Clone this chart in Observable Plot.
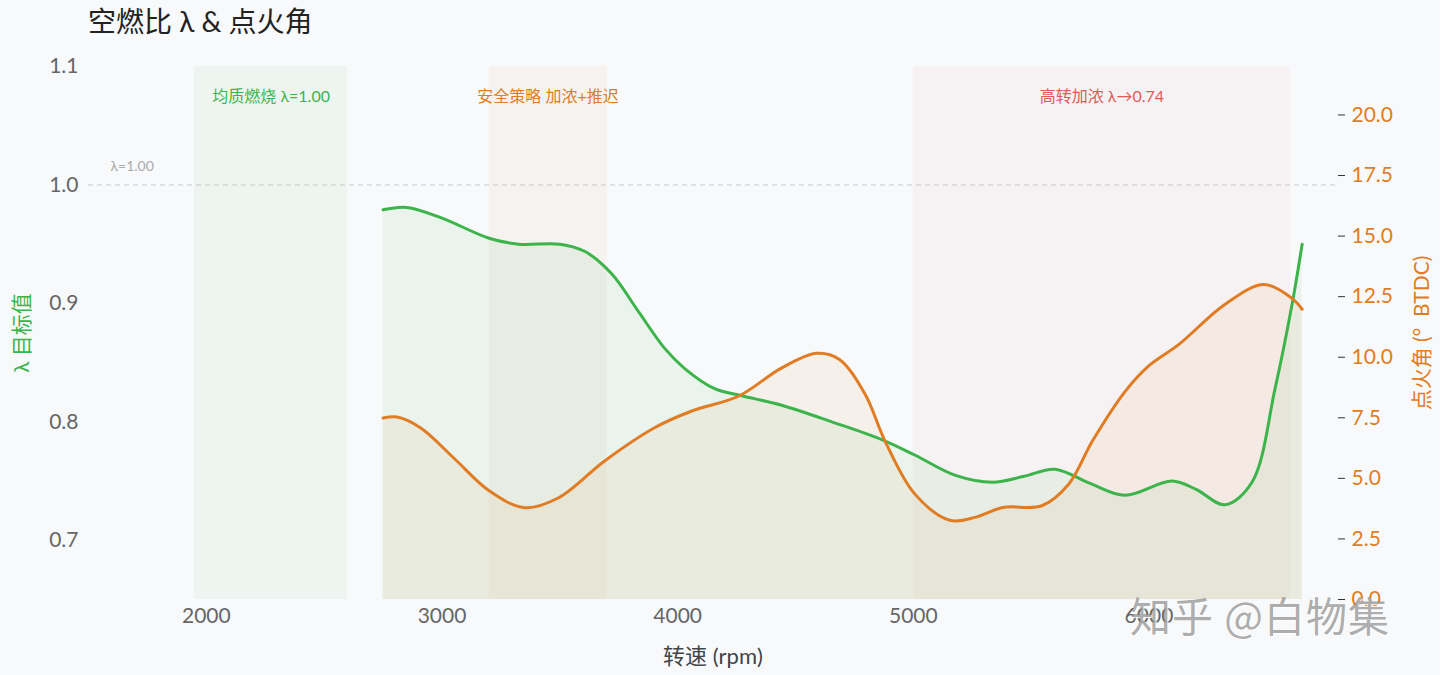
<!DOCTYPE html>
<html><head><meta charset="utf-8">
<script src="https://cdn.jsdelivr.net/npm/d3@7"></script>
<script src="https://cdn.jsdelivr.net/npm/@observablehq/plot@0.6"></script>
<style>
body{margin:0;background:#f8f9fa;font-family:Lato,"Noto Sans CJK SC",sans-serif;}
#wrap{position:relative;width:1440px;height:675px;overflow:hidden;background:#f8f9fa}
#title{position:absolute;left:88px;top:6px;font-size:28px;line-height:1.1;color:#222;font-family:Lato,"Noto Sans CJK SC",sans-serif;}
#wm{position:absolute;left:1130px;top:592px;font-size:41px;line-height:1.1;color:rgba(120,120,120,0.62);text-shadow:1px 1px 1px rgba(255,255,255,0.9);font-family:"Noto Sans CJK SC",sans-serif;letter-spacing:1px}
#chart{position:absolute;left:0;top:0}
</style></head><body>
<div id="wrap"><div id="chart"></div><div id="title">空燃比 λ &amp; 点火角</div><div id="wm">知乎 @白物集</div></div>
<script>
const GREEN = "#3cb44b", ORANGE = "#e07d24", RED = "#e05a5a";
const LAM_MIN = 0.65, LAM_MAX = 1.1, IGN_MAX = 22;

// λ target vs rpm
const lambdaRpm = [2750,2850,3000,3200,3325,3500,3605,3720,3834,3945,4030,4157,4272,4441,4654,4866,5006,5176,5337,5470,5601,5750,5898,6097,6200,6322,6437,6535,6607,6650];
const lambdaVal = [0.979,0.981,0.972,0.955,0.950,0.950,0.944,0.925,0.893,0.862,0.845,0.828,0.822,0.814,0.800,0.785,0.772,0.755,0.749,0.754,0.760,0.748,0.738,0.750,0.743,0.730,0.749,0.828,0.899,0.950];

// ignition angle (° BTDC) vs rpm
const ignRpm = [2750,2810,2910,3050,3200,3350,3495,3690,3900,4060,4260,4440,4590,4685,4795,4880,5006,5155,5265,5380,5545,5660,5760,5900,6000,6127,6322,6488,6607,6650];
const ignVal = [7.49,7.53,7.08,5.84,4.49,3.79,4.20,5.72,7.08,7.78,8.40,9.55,10.16,9.92,8.48,6.54,4.36,3.27,3.40,3.80,3.87,4.77,6.54,8.60,9.65,10.53,12.18,13.00,12.43,11.98];

// strategy bands
const bandStart = [1950, 3200, 5000];
const bandEnd   = [2600, 3700, 6600];
const bandLabel = ["均质燃烧 λ=1.00", "安全策略 加浓+推迟", "高转加浓 λ→0.74"];
const bandColor = [GREEN, ORANGE, RED];

const refLines = [{y: 1.0, label: "λ=1.00"}];

const xTicks = [2000, 3000, 4000, 5000, 6000];
const lamTicks = [0.7, 0.8, 0.9, 1.0, 1.1];
const ignTicks = [0, 2.5, 5, 7.5, 10, 12.5, 15, 17.5, 20];

const ignToY = v => LAM_MIN + v / IGN_MAX * (LAM_MAX - LAM_MIN);
const yToIgn = y => (y - LAM_MIN) / (LAM_MAX - LAM_MIN) * IGN_MAX;

const lamData = lambdaRpm.map((r, i) => ({rpm: r, lambda: lambdaVal[i]}));
const ignData = ignRpm.map((r, i) => ({rpm: r, ign: ignVal[i], y: ignToY(ignVal[i])}));
const bands = bandStart.map((s, i) => ({x1: s, x2: bandEnd[i], label: bandLabel[i], color: bandColor[i]}));

const FONT = "Lato, 'Noto Sans CJK SC', sans-serif";

const chart = Plot.plot({
  width: 1440, height: 675,
  marginTop: 66, marginBottom: 76, marginLeft: 88, marginRight: 103,
  style: {background: "transparent", fontFamily: FONT, overflow: "visible"},
  x: {domain: [1500, 6800]},
  y: {domain: [LAM_MIN, LAM_MAX]},
  marks: [
    Plot.rect(bands, {x1: "x1", x2: "x2", fill: "color", fillOpacity: 0.05}),
    Plot.text(bands, {x: d => (d.x1 + d.x2) / 2, frameAnchor: "top", dy: 24, text: "label", fill: "color", fontSize: 16}),
    Plot.ruleY(refLines, {y: "y", stroke: "#c9c9c9", strokeDasharray: "5,4", strokeWidth: 1}),
    Plot.text(refLines, {y: "y", frameAnchor: "left", dx: 22, dy: -18, text: "label", textAnchor: "start", fill: "#aaa", fontSize: 14}),
    Plot.area(lamData, {x1: "rpm", y1: () => LAM_MIN, y2: "lambda", curve: "catmull-rom", fill: GREEN, fillOpacity: 0.07}),
    Plot.area(ignData, {x1: "rpm", y1: () => LAM_MIN, y2: "y", curve: "catmull-rom", fill: ORANGE, fillOpacity: 0.07}),
    Plot.line(lamData, {x: "rpm", y: "lambda", curve: "catmull-rom", stroke: GREEN, strokeWidth: 3}),
    Plot.line(ignData, {x: "rpm", y: "y", curve: "catmull-rom", stroke: ORANGE, strokeWidth: 3}),
    Plot.axisX({ticks: xTicks, tickSize: 0, tickPadding: 9, tickFormat: d => String(d), fontSize: 21, fill: "#666", label: null}),
    Plot.axisY({anchor: "left", ticks: lamTicks, tickSize: 0, tickPadding: 10, tickFormat: d3.format(".1f"), fontSize: 21, fill: "#666", label: null}),
    Plot.axisY({anchor: "right", ticks: ignTicks.map(ignToY), tickFormat: d => yToIgn(d).toFixed(1), tickSize: 7, tickPadding: 7, stroke: "#333", fill: ORANGE, fontSize: 21, label: null}),
    Plot.text(["转速 (rpm)"], {frameAnchor: "bottom", dy: 64, fontSize: 22, fill: "#444"}),
    Plot.text(["λ 目标值"], {frameAnchor: "left", dx: -66, textAnchor: "middle", rotate: -90, fontSize: 21, fill: GREEN}),
    Plot.text(["点火角 (°  BTDC)"], {frameAnchor: "right", dx: 85, textAnchor: "middle", rotate: -90, fontSize: 21, fill: ORANGE})
  ]
});
document.getElementById("chart").appendChild(chart);
</script></body></html>
